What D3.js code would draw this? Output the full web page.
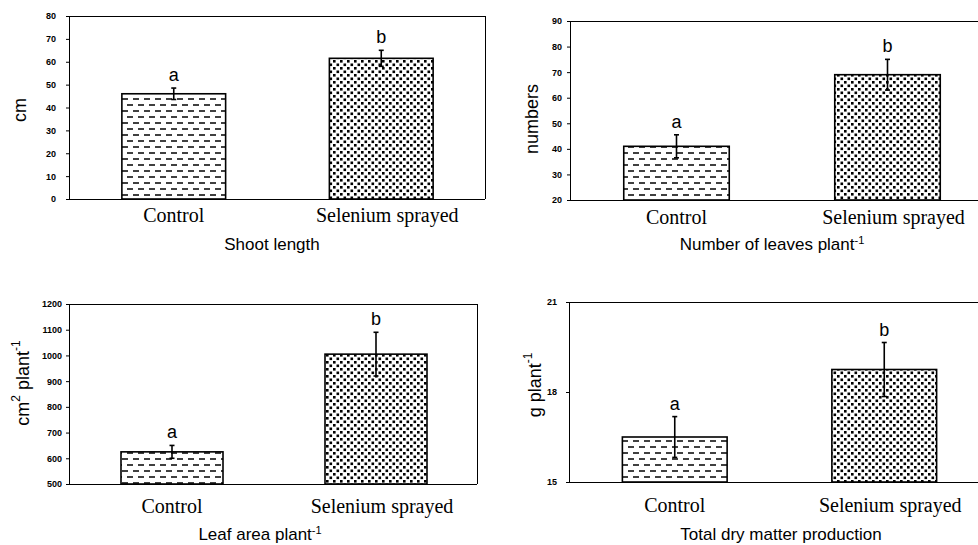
<!DOCTYPE html>
<html>
<head>
<meta charset="utf-8">
<script src="https://cdn.jsdelivr.net/npm/d3@7"></script>
<style>
  body { margin: 0; background: #fff; }
  svg { display: block; }
  .tick text { font-family: "Liberation Sans", Arial, sans-serif; font-weight: bold; font-size: 9px; }
  .cat { font-family: "Liberation Serif", "Times New Roman", serif; font-size: 20px; }
  .title, .ylab, .letter { font-family: "Liberation Sans", Arial, sans-serif; }
</style>
</head>
<body>
<div id="chart"></div>
<script>
// data
const categories = ["Control", "Selenium sprayed"];
const letters = ["a", "b"];

const shootLength = [46, 61.5];
const shootLengthErr = [2.5, 3.5];
const shootTicks = [0, 10, 20, 30, 40, 50, 60, 70, 80];

const leafNumber = [41, 69];
const leafNumberErr = [4.5, 6];
const leafNumberTicks = [20, 30, 40, 50, 60, 70, 80, 90];

const leafArea = [625, 1005];
const leafAreaErr = [25, 85];
const leafAreaTicks = [500, 600, 700, 800, 900, 1000, 1100, 1200];

const dryMatter = [16.5, 18.75];
const dryMatterErr = [0.68, 0.9];
const dryMatterTicks = [15, 18, 21];

const width = 978, height = 545;

const svg = d3.select("#chart").append("svg")
  .attr("width", width)
  .attr("height", height);

// fill patterns
const defs = svg.append("defs");

const dash = defs.append("pattern")
  .attr("id", "dashes")
  .attr("patternUnits", "userSpaceOnUse")
  .attr("width", 11)
  .attr("height", 12);
dash.append("rect").attr("x", 1).attr("y", 2.2).attr("width", 6).attr("height", 1.6).attr("fill", "#111");
dash.append("rect").attr("x", 6).attr("y", 8.2).attr("width", 6).attr("height", 1.6).attr("fill", "#111");
dash.append("rect").attr("x", -5).attr("y", 8.2).attr("width", 6).attr("height", 1.6).attr("fill", "#111");

const dots = defs.append("pattern")
  .attr("id", "dots")
  .attr("patternUnits", "userSpaceOnUse")
  .attr("width", 7)
  .attr("height", 7);
dots.append("rect").attr("x", 0.5).attr("y", 0.5).attr("width", 2.6).attr("height", 2.6).attr("fill", "#000");
dots.append("rect").attr("x", 4).attr("y", 4).attr("width", 2.6).attr("height", 2.6).attr("fill", "#000");

const fills = ["url(#dashes)", "url(#dots)"];

function drawPanel(cfg) {
  const g = svg.append("g");

  const x = d3.scaleBand()
    .domain(categories)
    .range([cfg.left, cfg.right])
    .paddingInner(0.5)
    .paddingOuter(0.25);

  const y = d3.scaleLinear()
    .domain(cfg.domain)
    .range([cfg.bottom, cfg.top]);

  const frameRight = Math.min(cfg.frameRight, width);

  // frame lines (top and right)
  g.append("line")
    .attr("x1", cfg.left).attr("x2", frameRight)
    .attr("y1", cfg.top + 0.5).attr("y2", cfg.top + 0.5)
    .attr("stroke", "#000");
  if (cfg.frameRight < width) {
    g.append("line")
      .attr("x1", frameRight + 0.5).attr("x2", frameRight + 0.5)
      .attr("y1", cfg.top).attr("y2", cfg.bottom)
      .attr("stroke", "#000");
  }

  // bars
  g.selectAll(".bar")
    .data(cfg.values)
    .enter().append("rect")
    .attr("class", "bar")
    .attr("x", (d, i) => x(categories[i]))
    .attr("y", d => y(d))
    .attr("width", x.bandwidth())
    .attr("height", d => cfg.bottom - y(d))
    .attr("fill", "#fff");

  g.selectAll(".barfill")
    .data(cfg.values)
    .enter().append("rect")
    .attr("class", "barfill")
    .attr("x", (d, i) => x(categories[i]))
    .attr("y", d => y(d))
    .attr("width", x.bandwidth())
    .attr("height", d => cfg.bottom - y(d))
    .attr("fill", (d, i) => fills[i])
    .attr("stroke", "#000")
    .attr("stroke-width", 1.6);

  // error bars
  const cx = i => x(categories[i]) + x.bandwidth() / 2;
  const err = g.selectAll(".err")
    .data(cfg.values)
    .enter().append("g")
    .attr("class", "err")
    .attr("stroke", "#000")
    .attr("stroke-width", 1.6);
  err.append("line")
    .attr("x1", (d, i) => cx(i)).attr("x2", (d, i) => cx(i))
    .attr("y1", (d, i) => y(d - cfg.errors[i]))
    .attr("y2", (d, i) => y(d + cfg.errors[i]));
  err.append("line")
    .attr("x1", (d, i) => cx(i) - 2.5).attr("x2", (d, i) => cx(i) + 2.5)
    .attr("y1", (d, i) => y(d + cfg.errors[i]))
    .attr("y2", (d, i) => y(d + cfg.errors[i]));
  err.append("line")
    .attr("x1", (d, i) => cx(i) - 2.5).attr("x2", (d, i) => cx(i) + 2.5)
    .attr("y1", (d, i) => y(d - cfg.errors[i]))
    .attr("y2", (d, i) => y(d - cfg.errors[i]));

  // significance letters
  g.selectAll(".letter")
    .data(cfg.values)
    .enter().append("text")
    .attr("class", "letter")
    .attr("x", (d, i) => cx(i))
    .attr("y", (d, i) => y(d + cfg.errors[i]) - 7)
    .attr("text-anchor", "middle")
    .attr("font-size", 18)
    .text((d, i) => letters[i]);

  // axes
  g.append("g")
    .attr("transform", `translate(${cfg.left},0)`)
    .call(d3.axisLeft(y).tickValues(cfg.ticks).tickSize(4).tickPadding(cfg.tickPad).tickFormat(d3.format("d")))
    .call(a => a.select(".domain").attr("d", `M-0.5,${cfg.top}V${cfg.bottom}`))
    .selectAll("text").attr("fill", "#000");

  g.append("line")
    .attr("x1", cfg.left).attr("x2", frameRight)
    .attr("y1", cfg.bottom + 0.5).attr("y2", cfg.bottom + 0.5)
    .attr("stroke", "#000");

  // category labels
  g.selectAll(".cat")
    .data(categories)
    .enter().append("text")
    .attr("class", "cat")
    .attr("x", (d, i) => cx(i) + (i ? 6 : 0))
    .attr("y", cfg.catY)
    .attr("text-anchor", "middle")
    .text(d => d);

  // x title
  const t = g.append("text")
    .attr("class", "title")
    .attr("x", cfg.titleX)
    .attr("y", cfg.titleY)
    .attr("text-anchor", "middle")
    .attr("font-size", 17);
  cfg.title.forEach(p => {
    const s = t.append("tspan").text(p.text);
    if (p.sup) s.attr("font-size", 11).attr("baseline-shift", "super");
  });

  // y title
  const yl = g.append("text")
    .attr("class", "ylab")
    .attr("transform", `translate(${cfg.ylabX},${cfg.ylabY}) rotate(-90)`)
    .attr("text-anchor", "middle")
    .attr("dominant-baseline", "central")
    .attr("font-size", 18);
  cfg.ylab.forEach(p => {
    const s = yl.append("tspan").text(p.text);
    if (p.sup) s.attr("font-size", 12).attr("baseline-shift", "super");
  });
}

drawPanel({
  values: shootLength, errors: shootLengthErr, ticks: shootTicks, domain: [0, 80],
  left: 70, right: 485, frameRight: 485, top: 16, bottom: 199, tickPad: 10,
  catY: 222, titleX: 272, titleY: 250,
  title: [{ text: "Shoot length" }],
  ylabX: 20, ylabY: 110, ylab: [{ text: "cm" }]
});

drawPanel({
  values: leafNumber, errors: leafNumberErr, ticks: leafNumberTicks, domain: [20, 90],
  left: 571, right: 993, frameRight: 993, top: 21, bottom: 200, tickPad: 5,
  catY: 224, titleX: 772, titleY: 250,
  title: [{ text: "Number of leaves plant" }, { text: "-1", sup: true }],
  ylabX: 532, ylabY: 119, ylab: [{ text: "numbers" }]
});

drawPanel({
  values: leafArea, errors: leafAreaErr, ticks: leafAreaTicks, domain: [500, 1200],
  left: 70, right: 478, frameRight: 477, top: 304, bottom: 484, tickPad: 4,
  catY: 513, titleX: 260, titleY: 540,
  title: [{ text: "Leaf  area plant" }, { text: "-1", sup: true }],
  ylabX: 23, ylabY: 383, ylab: [{ text: "cm" }, { text: "2", sup: true }, { text: " plant" }, { text: "-1", sup: true }]
});

drawPanel({
  values: dryMatter, errors: dryMatterErr, ticks: dryMatterTicks, domain: [15, 21],
  left: 570, right: 989, frameRight: 989, top: 302, bottom: 482, tickPad: 9,
  catY: 512, titleX: 781, titleY: 540,
  title: [{ text: "Total dry matter production" }],
  ylabX: 535, ylabY: 385, ylab: [{ text: "g plant" }, { text: "-1", sup: true }]
});
</script>
</body>
</html>
